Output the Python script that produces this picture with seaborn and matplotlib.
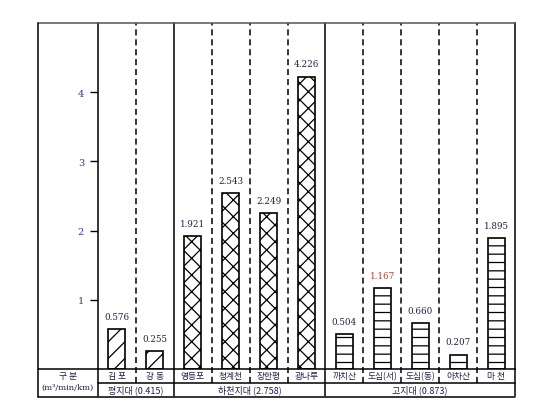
import pandas as pd
import seaborn as sns
import matplotlib.pyplot as plt
import matplotlib.transforms as mtransforms
from matplotlib.lines import Line2D

# data
sites = ['김 포', '강 동', '영등포', '청계천', '장한평', '광나루',
         '까치산', '도심(서)', '도심(동)', '아차산', '마 천']
values = [0.576, 0.255, 1.921, 2.543, 2.249, 4.226,
          0.504, 1.167, 0.660, 0.207, 1.895]
zones = ['평지대'] * 2 + ['하천지대'] * 4 + ['고지대'] * 5
zone_labels = ['평지대 (0.415)', '하천지대 (2.758)', '고지대 (0.873)']
zone_hatch = {'평지대': '//', '하천지대': 'xx', '고지대': '--'}
y_ticks = [1, 2, 3, 4]

df = pd.DataFrame({'site': sites, 'value': values, 'zone': zones})

sns.set_theme(style='white')
plt.rcParams['font.family'] = ['Noto Sans CJK KR', 'DejaVu Sans']
plt.rcParams['hatch.linewidth'] = 0.9

W, H = 551, 414
fig = plt.figure(figsize=(W / 100, H / 100), dpi=100)
ax = fig.add_axes([98 / W, 1 - 370 / H, (515 - 98) / W, (370 - 24) / H])

sns.barplot(data=df, x='site', y='value', order=sites, color='white',
            edgecolor='black', linewidth=1.2, width=0.45, ax=ax, saturation=1)

for patch, zone in zip(ax.patches, df['zone']):
    patch.set_hatch(zone_hatch[zone])
    patch.set_facecolor('white')

ax.set_xlim(-0.5, len(sites) - 0.5)
ax.set_ylim(0, 5)
ax.set_xlabel('')
ax.set_ylabel('')
ax.set_xticks([])
ax.set_yticks(y_ticks)
ax.set_yticklabels([str(t) for t in y_ticks], family='DejaVu Serif',
                   fontsize=7, color='#2b3d99')
ax.tick_params(axis='y', direction='out', length=6, width=1, color='black',
               left=True, pad=4)
for side in ['left', 'right']:
    ax.spines[side].set_color('black')
    ax.spines[side].set_linewidth(1.1)
ax.spines['top'].set_visible(False)
ax.spines['bottom'].set_visible(False)

# value labels
for i, v in enumerate(values):
    col = '#c0392b' if sites[i] == '도심(서)' else '#1c2147'
    ax.text(i, v + 0.12, f'{v:.3f}', ha='center', va='bottom',
            family='DejaVu Serif', fontsize=6.3, color=col)

# column separators (data x, axes y)
blend = mtransforms.blended_transform_factory(ax.transData, ax.transAxes)
row1 = -14 / 346
row2 = -27 / 346
group_edges = [1.5, 5.5]
for k in range(len(sites) - 1):
    xb = k + 0.5
    if xb in group_edges:
        ax.add_line(Line2D([xb, xb], [row2, 1], transform=blend, color='black',
                           lw=1.1, clip_on=False))
    else:
        ax.add_line(Line2D([xb, xb], [row1, 1], transform=blend, color='black',
                           lw=1.1, ls=(0, (4, 2.5)), clip_on=False))
ax.add_line(Line2D([-0.5, -0.5], [row2, 0], transform=blend, color='black',
                   lw=1.1, clip_on=False))
ax.add_line(Line2D([10.5, 10.5], [row2, 0], transform=blend, color='black',
                   lw=1.1, clip_on=False))

# frame and table lines in figure pixels
def hline(y, x0, x1, c='black', lw=1.1):
    fig.add_artist(Line2D([x0 / W, x1 / W], [1 - y / H, 1 - y / H],
                          color=c, lw=lw))

def vline(x, y0, y1, c='black', lw=1.1):
    fig.add_artist(Line2D([x / W, x / W], [1 - y0 / H, 1 - y1 / H],
                          color=c, lw=lw))

hline(24, 38, 515, c='#555555')
hline(370, 38, 515)
hline(384, 98, 515)
hline(397.5, 38, 515)
vline(38, 24, 397.5)

# table text
for i, s in enumerate(sites):
    ax.text(i, (row1) / 2, s, transform=blend, ha='center', va='center',
            fontsize=6.3, color='#1c2147', clip_on=False)
group_centers = [0.5, 3.5, 8]
for xc, lab in zip(group_centers, zone_labels):
    ax.text(xc, (row1 + row2) / 2, lab, transform=blend, ha='center',
            va='center', fontsize=6.5, color='#1c2147', clip_on=False)

fig.text(68 / W, 1 - 377 / H, '구 분', ha='center', va='center',
         fontsize=6.3, color='#1c2147')
fig.text(68 / W, 1 - 388 / H, '(m³/min/km)', ha='center', va='center',
         fontsize=6, color='#1c2147', family=['DejaVu Serif'])

fig.savefig('out.png', dpi=100)
